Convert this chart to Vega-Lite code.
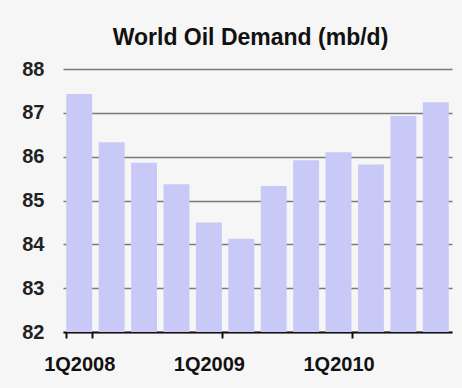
{
  "$schema": "https://vega.github.io/schema/vega-lite/v6.json",
  "width": 389,
  "height": 263,
  "autosize": {"type": "none"},
  "padding": {"left": 63, "top": 69, "right": 10, "bottom": 56},
  "background": "#f6f6f6",
  "title": {
    "text": "World Oil Demand (mb/d)",
    "font": "Liberation Sans",
    "fontSize": 23,
    "fontWeight": "bold",
    "color": "#111111",
    "anchor": "middle",
    "dx": -7,
    "offset": 9
  },
  "data": {
    "values": [
      {"quarter": "1Q2008", "demand": 87.43},
      {"quarter": "2Q2008", "demand": 86.33},
      {"quarter": "3Q2008", "demand": 85.86},
      {"quarter": "4Q2008", "demand": 85.37},
      {"quarter": "1Q2009", "demand": 84.5},
      {"quarter": "2Q2009", "demand": 84.13},
      {"quarter": "3Q2009", "demand": 85.33},
      {"quarter": "4Q2009", "demand": 85.92},
      {"quarter": "1Q2010", "demand": 86.1},
      {"quarter": "2Q2010", "demand": 85.82},
      {"quarter": "3Q2010", "demand": 86.93},
      {"quarter": "4Q2010", "demand": 87.24}
    ]
  },
  "mark": {"type": "bar", "color": "#c9c9f7", "clip": true},
  "encoding": {
    "x": {
      "field": "quarter",
      "type": "ordinal",
      "sort": null,
      "scale": {"paddingInner": 0.2, "paddingOuter": 0.1},
      "axis": {
        "title": null,
        "values": ["1Q2008", "1Q2009", "1Q2010"],
        "tickBand": "extent",
        "labelAngle": 0,
        "labelFont": "Liberation Sans",
        "labelFontSize": 20,
        "labelFontWeight": "bold",
        "labelColor": "#111111",
        "labelPadding": 16,
        "labelDx": -3.5,
        "domainColor": "#111111",
        "domainWidth": 2,
        "tickColor": "#111111",
        "tickWidth": 2,
        "tickSize": 6,
        "grid": false
      }
    },
    "y": {
      "field": "demand",
      "type": "quantitative",
      "scale": {"domain": [82, 88], "zero": false, "nice": false},
      "axis": {
        "title": null,
        "values": [82, 83, 84, 85, 86, 87, 88],
        "domain": false,
        "ticks": false,
        "labelFont": "Liberation Sans",
        "labelFontSize": 20,
        "labelFontWeight": "bold",
        "labelColor": "#222222",
        "labelPadding": 19,
        "grid": true,
        "gridColor": "#7a7a7a",
        "gridWidth": 1.5
      }
    }
  },
  "config": {"view": {"stroke": null}}
}
